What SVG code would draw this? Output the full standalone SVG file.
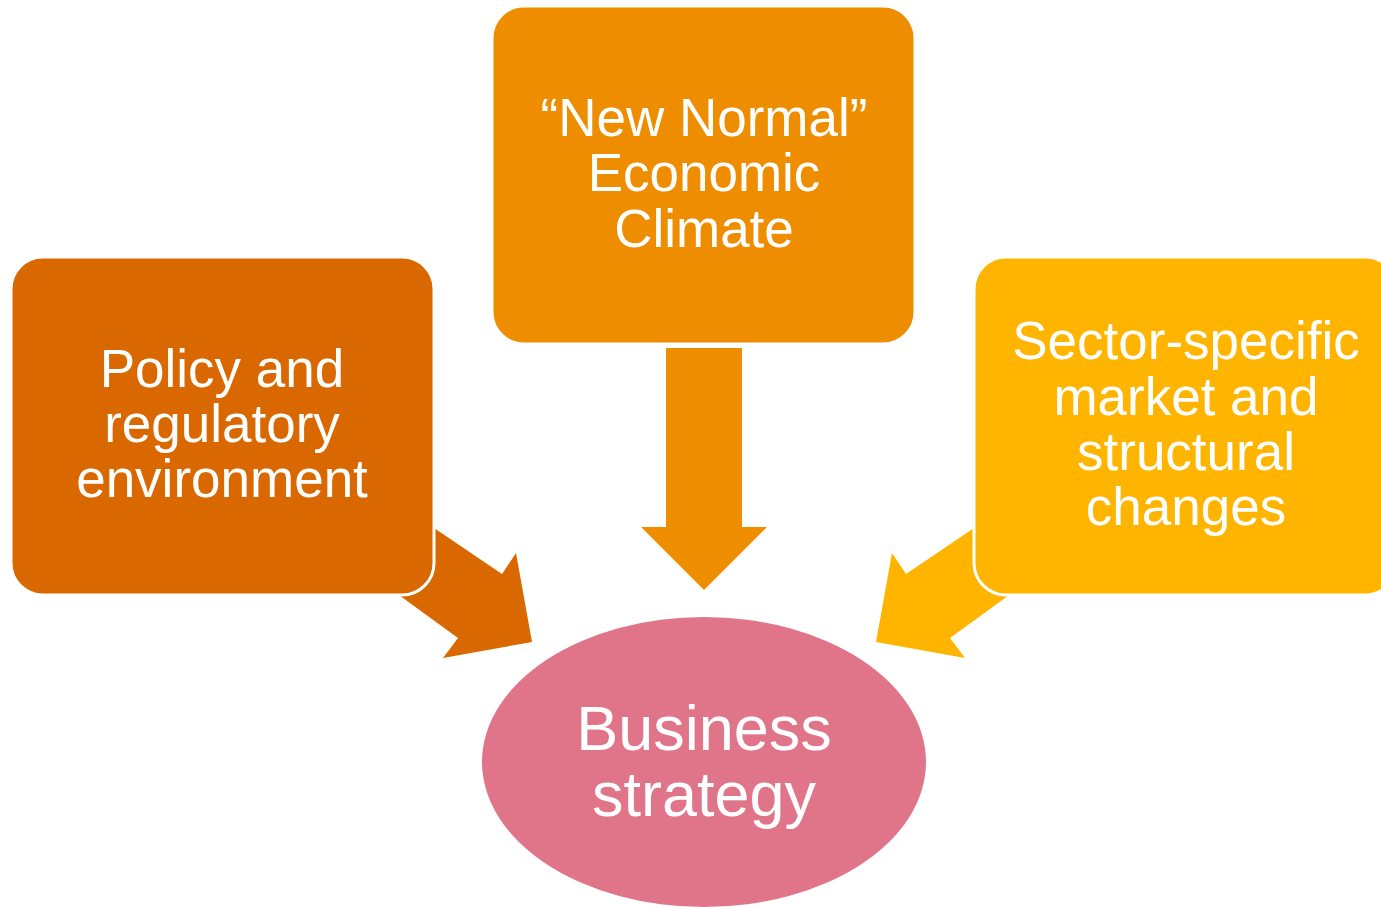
<svg xmlns="http://www.w3.org/2000/svg" width="1381" height="907" viewBox="0 0 1381 907">
  <style>
    .label { font-family: "Liberation Sans", Arial, sans-serif; fill: #FFFFFF; text-anchor: middle; }
    .box { stroke: #FFFFFF; stroke-width: 3; }
    .c1 { fill: #DA6800; }
    .c2 { fill: #EE8D00; }
    .c3 { fill: #FFB500; }
    .goal { fill: #E07488; }
  </style>
  <rect width="1381" height="907" fill="#FFFFFF"/>

  <!-- block arrows pointing into the central ellipse -->
  <g id="connectors">
    <polygon class="c1" points="387,496 437,530 502,574 516,553 532,642 443,658 458,638 403,598 353,564"/>
    <polygon class="c3" points="1021,496 971,530 906,574 892,553 876,642 965,658 950,638 1005,598 1055,564"/>
    <polygon class="c2" points="666,348 742,348 742,527 767,527 704,590 641,527 666,527"/>
  </g>

  <g id="node-policy">
    <rect class="box c1" x="11" y="257" width="423" height="338" rx="32" ry="32"/>
    <text class="label" font-size="53" x="222" y="387">Policy and</text>
    <text class="label" font-size="53" x="222" y="442">regulatory</text>
    <text class="label" font-size="53" x="222" y="497">environment</text>
  </g>

  <g id="node-climate">
    <rect class="box c2" x="492" y="6" width="423" height="338" rx="32" ry="32"/>
    <text class="label" font-size="53" x="704" y="136">“New Normal”</text>
    <text class="label" font-size="53" x="704" y="191">Economic</text>
    <text class="label" font-size="53" x="704" y="247">Climate</text>
  </g>

  <g id="node-sector">
    <rect class="box c3" x="974" y="257" width="423" height="338" rx="32" ry="32"/>
    <text class="label" font-size="53" x="1186" y="359">Sector-specific</text>
    <text class="label" font-size="53" x="1186" y="415">market and</text>
    <text class="label" font-size="53" x="1186" y="470">structural</text>
    <text class="label" font-size="53" x="1186" y="525">changes</text>
  </g>

  <g id="node-strategy">
    <ellipse class="goal" cx="704" cy="762" rx="222" ry="145"/>
    <text class="label" font-size="63" x="704" y="750">Business</text>
    <text class="label" font-size="63" x="704" y="816">strategy</text>
  </g>
</svg>
